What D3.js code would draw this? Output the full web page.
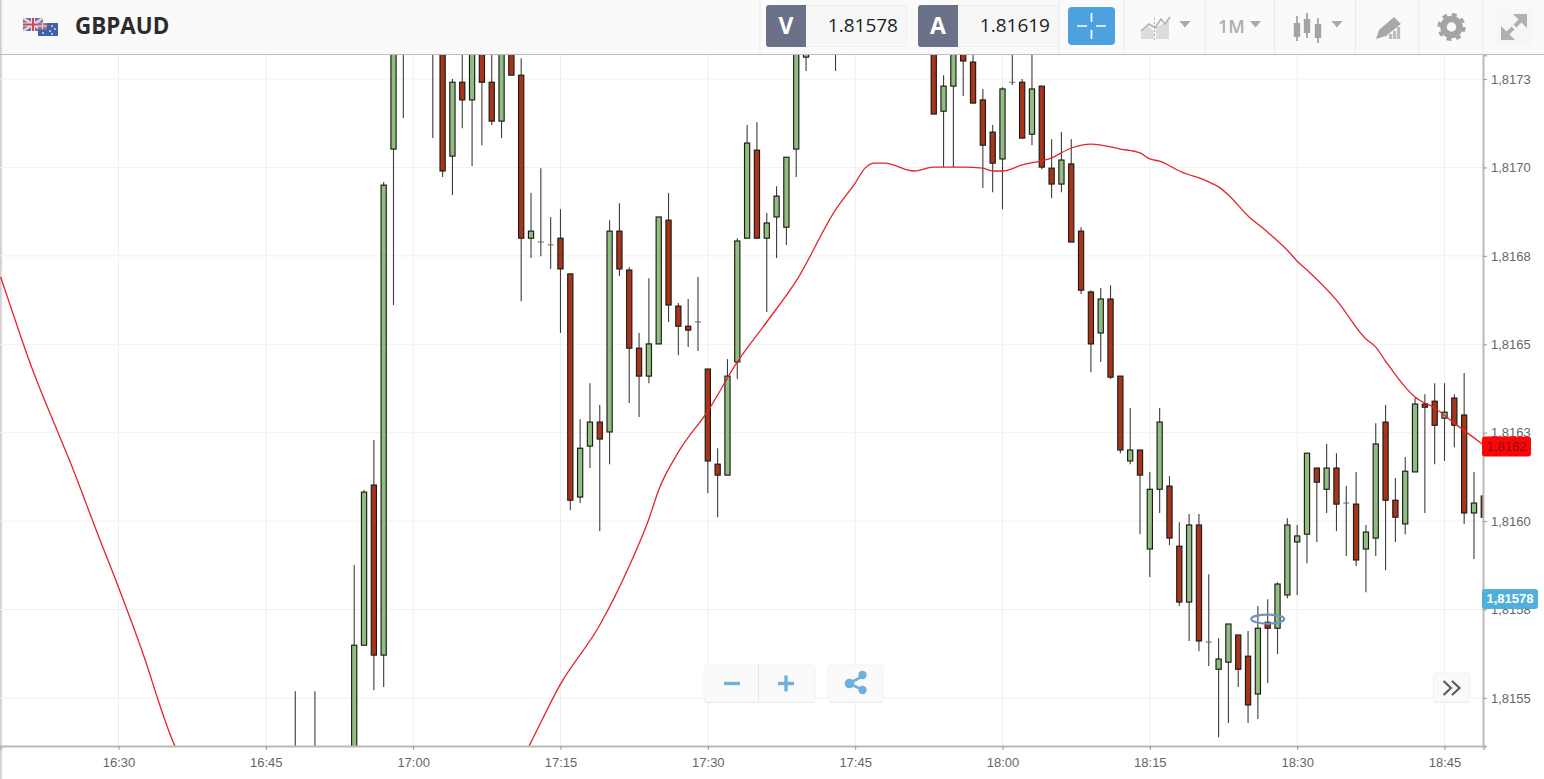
<!DOCTYPE html>
<html><head><meta charset="utf-8">
<script src="https://cdn.jsdelivr.net/npm/d3@7"></script>
<style>
html,body{margin:0;padding:0;background:#fff;overflow:hidden}
svg{display:block}
.tick text{font-family:"Liberation Sans",Arial,sans-serif;font-size:13px;fill:#666}
</style></head><body><svg id="c" width="1544" height="779"></svg>
<script>
const symbolName = "GBPAUD";
const bidLabel = "V", askLabel = "A";
const bidText = "1.81578", askText = "1.81619";
const periodText = "1M";
const lastQuote = 1.81578, lastQuoteText = "1,81578";
const maLastText = "1,8162";

const xTicks = ["16:30","16:45","17:00","17:15","17:30","17:45","18:00","18:15","18:30","18:45"];
const yTicks = [1.81725,1.8170,1.81675,1.8165,1.81625,1.8160,1.81575,1.8155];
const yTickLabels = ["1,8173","1,8170","1,8168","1,8165","1,8163","1,8160","1,8158","1,8155"];

const times = ["16:48","16:50","16:54","16:55","16:56","16:57","16:58","16:59",
"17:02","17:03","17:04","17:05","17:06","17:07","17:08","17:09","17:10","17:11","17:12","17:13","17:14","17:15","17:16","17:17","17:18","17:19",
"17:20","17:21","17:22","17:23","17:24","17:25","17:26","17:27","17:28","17:29","17:30","17:31","17:32","17:33","17:34","17:35","17:36","17:37","17:38","17:39","17:40",
"17:43","17:53","17:54","17:55","17:56","17:57","17:58","17:59","18:00","18:01","18:02","18:03","18:04","18:05","18:06","18:07","18:08","18:09",
"18:10","18:11","18:12","18:13","18:14","18:15","18:16","18:17","18:18","18:19","18:20","18:21","18:22","18:23","18:24","18:25","18:26","18:27","18:28","18:29",
"18:30","18:31","18:32","18:33","18:34","18:35","18:36","18:37","18:38","18:39","18:40","18:41","18:42","18:43","18:44","18:45","18:46","18:47","18:48","18:49"];

const opens = [1.815338,1.815335,1.815324,1.815649,1.816102,1.815621,1.817052,1.817389,
1.817417,1.817389,1.817032,1.817241,1.817191,1.817389,1.817241,1.817131,1.817360,1.817261,1.816800,1.816789,1.816781,1.816800,1.816699,1.816068,1.816212,1.816280,
1.816252,1.816820,1.816710,1.816489,1.816410,1.816501,1.816851,1.816608,1.816551,1.816563,1.816430,1.816161,1.816130,1.816450,1.816800,1.817049,1.816800,1.816860,1.816831,1.817052,1.817312,
1.817389,1.817389,1.817159,1.817230,1.817360,1.817298,1.817191,1.817100,1.817024,1.817241,1.817241,1.817094,1.817230,1.816998,1.816953,1.817010,1.816820,1.816648,
1.816532,1.816628,1.816410,1.816170,1.816201,1.815921,1.816090,1.816099,1.815929,1.815771,1.815989,1.815658,1.815581,1.815601,1.815678,1.815618,1.815511,1.815714,1.815697,1.815791,
1.815941,1.815963,1.816150,1.816090,1.816150,1.816051,1.816048,1.815921,1.815952,1.816280,1.816059,1.815992,1.816139,1.816331,1.816339,1.816291,1.816348,1.816300,1.816023,1.816071];

const highs = [1.815519,1.815519,1.815876,1.816088,1.816229,1.816959,1.817417,1.817417,
1.817445,1.817417,1.817250,1.817389,1.817417,1.817417,1.817389,1.817417,1.817389,1.817309,1.816928,1.816998,1.816860,1.816882,1.816699,1.816288,1.816390,1.816328,
1.816851,1.816899,1.816718,1.816532,1.816687,1.816860,1.816928,1.816617,1.816628,1.816690,1.816430,1.816206,1.816458,1.816800,1.817120,1.817128,1.816871,1.816947,1.817029,1.817417,1.817360,
1.817417,1.817417,1.817261,1.817417,1.817389,1.817360,1.817222,1.817120,1.817227,1.817389,1.817250,1.817389,1.817230,1.817080,1.817100,1.817080,1.816831,1.816653,
1.816659,1.816667,1.816410,1.816320,1.816201,1.816139,1.816320,1.816127,1.815997,1.816020,1.816020,1.815850,1.815669,1.815709,1.815678,1.815689,1.815760,1.815779,1.815827,1.816008,
1.815989,1.816192,1.816150,1.816218,1.816192,1.816099,1.816139,1.815989,1.816277,1.816328,1.816122,1.816181,1.816348,1.816359,1.816390,1.816390,1.816359,1.816419,1.816139,1.816088];

const lows = [1.815282,1.815270,1.815296,1.815649,1.815522,1.815531,1.816611,1.817140,
1.817083,1.816973,1.816922,1.817111,1.817004,1.817063,1.817120,1.817083,1.817261,1.816622,1.816744,1.816749,1.816713,1.816532,1.816031,1.816051,1.816150,1.815972,
1.816161,1.816693,1.816334,1.816294,1.816390,1.816501,1.816563,1.816469,1.816492,1.816481,1.816079,1.816011,1.816130,1.816402,1.816800,1.816800,1.816591,1.816744,1.816781,1.816973,1.817273,
1.817273,1.817151,1.817001,1.817001,1.817202,1.817182,1.816942,1.816930,1.816882,1.817233,1.817083,1.817063,1.816995,1.816913,1.816930,1.816789,1.816642,1.816421,
1.816450,1.816402,1.816192,1.816161,1.815963,1.815842,1.816023,1.815932,1.815760,1.815661,1.815632,1.815590,1.815389,1.815429,1.815531,1.815429,1.815440,1.815542,1.815624,1.815782,
1.815791,1.815881,1.815941,1.816023,1.815972,1.815901,1.815873,1.815799,1.815901,1.815861,1.815941,1.815963,1.816139,1.816023,1.816161,1.816170,1.816209,1.815992,1.815893,1.815992];

const closes = [1.815310,1.815300,1.815649,1.816082,1.815621,1.816950,1.817389,1.817360,
1.817360,1.816990,1.817241,1.817191,1.817389,1.817241,1.817131,1.817389,1.817261,1.816800,1.816820,1.816789,1.816781,1.816713,1.816059,1.816206,1.816280,1.816232,
1.816820,1.816713,1.816489,1.816410,1.816501,1.816860,1.816611,1.816551,1.816540,1.816563,1.816170,1.816130,1.816410,1.816792,1.817069,1.816800,1.816843,1.816919,1.817029,1.817389,1.817346,
1.817360,1.817151,1.817230,1.817389,1.817301,1.817182,1.817063,1.817012,1.817222,1.817241,1.817083,1.817222,1.817001,1.816953,1.817021,1.816789,1.816653,1.816501,
1.816628,1.816407,1.816201,1.816201,1.816130,1.816090,1.816280,1.815952,1.815771,1.815989,1.815661,1.815658,1.815610,1.815709,1.815581,1.815480,1.815697,1.815697,1.815822,1.815989,
1.815958,1.816192,1.816110,1.816150,1.816048,1.816051,1.815890,1.815969,1.816218,1.816059,1.816011,1.816141,1.816331,1.816322,1.816271,1.816308,1.816271,1.816023,1.816051,1.816011];

const maTimes = ["16:18","16:20","16:21","16:24","16:25","16:28","16:30","16:33","16:34","16:36","16:38",
"17:09","17:11","17:12","17:15","17:19","17:22","17:24","17:25","17:27","17:30","17:33","17:36","17:39","17:43","17:45","17:46","17:47","17:48",
"17:51","17:53","17:56","17:58","17:59","18:00","18:02","18:05","18:07","18:09","18:12","18:14","18:15","18:16","18:18","18:21","18:22","18:23","18:25","18:27","18:29",
"18:30","18:31","18:34","18:37","18:38","18:39","18:41","18:42","18:44","18:46","18:49"];
const maValues = [1.816690,1.816526,1.816447,1.816240,1.816173,1.815955,1.815813,1.815584,1.815497,1.815350,1.815296,
1.815296,1.815321,1.815375,1.815539,1.815706,1.815873,1.816006,1.816088,1.816195,1.816311,1.816450,1.816563,1.816679,1.816880,1.816956,1.816998,1.817012,1.817012,
1.816990,1.817001,1.817001,1.816998,1.816990,1.816990,1.817007,1.817027,1.817055,1.817066,1.817052,1.817041,1.817024,1.817018,1.816990,1.816959,1.816945,1.816922,1.816863,1.816817,1.816766,
1.816735,1.816710,1.816625,1.816515,1.816492,1.816452,1.816379,1.816351,1.816320,1.816277,1.816215];

const markerTime = "18:27", markerPrice = 1.815723;

const parseT = d3.timeParse("%H:%M");
const svg = d3.select("#c");
const plotRight = 1483, plotTop = 55, plotBottom = 746;

const x = d3.scaleTime().domain([parseT("16:18"), parseT("18:49")]).range([0.6, 1483.8]);
const y = d3.scaleLinear().domain([1.815364, 1.817318]).range([plotBottom, plotTop]);

const defs = svg.append("defs");
defs.append("clipPath").attr("id","plot").append("rect").attr("x",0).attr("y",plotTop).attr("width",plotRight).attr("height",plotBottom-plotTop);
const lg = defs.append("linearGradient").attr("id","edge");
lg.append("stop").attr("offset",0).attr("stop-color","#c4c4c4");
lg.append("stop").attr("offset",1).attr("stop-color","#ffffff");

// left edge
svg.append("rect").attr("x",0).attr("y",0).attr("width",3).attr("height",779).attr("fill","url(#edge)");

// grid
const grid = svg.append("g");
grid.selectAll("line.v").data(xTicks).join("line").attr("x1",d=>x(parseT(d))).attr("x2",d=>x(parseT(d))).attr("y1",plotTop).attr("y2",plotBottom).attr("stroke","#efefef");
grid.selectAll("line.h").data(yTicks).join("line").attr("x1",0).attr("x2",plotRight).attr("y1",d=>y(d)).attr("y2",d=>y(d)).attr("stroke","#f1f1f1").attr("class","h");

// candles
const idx = d3.range(times.length);
const plot = svg.append("g").attr("clip-path","url(#plot)");
const cg = plot.selectAll("g.k").data(idx).join("g").attr("class","k");
cg.append("line").attr("x1",i=>x(parseT(times[i]))).attr("x2",i=>x(parseT(times[i])))
  .attr("y1",i=>y(highs[i])).attr("y2",i=>y(lows[i])).attr("stroke","#3c3c3c").attr("stroke-width",1.1);
cg.filter(i=>opens[i]!==closes[i]).append("rect")
  .attr("x",i=>x(parseT(times[i]))-2.6).attr("width",5.2)
  .attr("y",i=>y(Math.max(opens[i],closes[i])))
  .attr("height",i=>Math.abs(y(opens[i])-y(closes[i])))
  .attr("fill",i=>closes[i]>opens[i]?"#90bd83":"#a9341c")
  .attr("stroke","#1c1c14").attr("stroke-width",1.15);
cg.filter(i=>opens[i]===closes[i]).append("line")
  .attr("x1",i=>x(parseT(times[i]))-3).attr("x2",i=>x(parseT(times[i]))+3)
  .attr("y1",i=>y(opens[i])).attr("y2",i=>y(opens[i])).attr("stroke","#666").attr("stroke-width",1);

// moving average
const ma = d3.line().x((d,i)=>x(parseT(maTimes[i]))).y(d=>y(d)).curve(d3.curveMonotoneX);
plot.append("path").attr("d",ma(maValues)).attr("fill","none").attr("stroke","#e2252b").attr("stroke-width",1.3);

// marker at the current price
plot.append("ellipse").attr("cx",x(parseT(markerTime))).attr("cy",y(markerPrice)).attr("rx",16.5).attr("ry",4.5)
  .attr("fill","none").attr("stroke","#6f93bd").attr("stroke-width",2.2);

// axes
const xAxis = d3.axisBottom(x).tickValues(xTicks.map(parseT)).tickFormat(d3.timeFormat("%H:%M")).tickSize(4).tickPadding(8);
const gx = svg.append("g").attr("transform",`translate(0,${plotBottom})`).call(xAxis);
gx.select(".domain").attr("stroke","#b9b9b9").attr("stroke-width",2);
gx.selectAll(".tick line").attr("stroke","#999");
const yAxis = d3.axisRight(y).tickValues(yTicks).tickFormat((d,i)=>yTickLabels[i]).tickSize(4).tickPadding(4);
const gy = svg.append("g").attr("transform",`translate(${plotRight},0)`).call(yAxis);
gy.select(".domain").attr("stroke","#b9b9b9").attr("stroke-width",2);
gy.selectAll(".tick line").attr("stroke","#999");

// price labels
const F = '"Liberation Sans",Arial,sans-serif';
function priceTag(v,w,fill,txtFill,txt,weight){
  const cy=y(v);
  svg.append("rect").attr("x",1482).attr("y",cy-10).attr("width",w).attr("height",20).attr("rx",3).attr("fill",fill);
  svg.append("text").attr("x",1482+w/2).attr("y",cy+4.5).attr("text-anchor","middle").attr("font-family",F).attr("font-size",13).attr("font-weight",weight).attr("fill",txtFill).text(txt);
}
priceTag(maValues[maValues.length-1]-0.000004,49,"#fb0606","#8e1010",maLastText,"normal");
priceTag(lastQuote,56,"#4fb0dc","#ffffff",lastQuoteText,"bold");

// header
const OS='"Open Sans",sans-serif';
const hd=svg.append("g");
hd.append("rect").attr("x",0).attr("y",0).attr("width",1544).attr("height",54).attr("fill","#fafafa");
hd.append("rect").attr("x",0).attr("y",0).attr("width",3).attr("height",54).attr("fill","url(#edge)");
hd.append("line").attr("x1",0).attr("x2",1544).attr("y1",54.5).attr("y2",54.5).attr("stroke","#bdbdbd");
[760,1059,1124,1205,1274.5,1355.5,1419,1483].forEach(v=>hd.append("line").attr("x1",v).attr("x2",v).attr("y1",0).attr("y2",54).attr("stroke","#eaeaea"));

// flags
const uk=hd.append("g");
uk.append("rect").attr("x",23).attr("y",18).attr("width",20).attr("height",13).attr("fill","#6d6fa8");
uk.append("path").attr("d","M23 18L43 31M43 18L23 31").attr("stroke","#e8d6dc").attr("stroke-width",2.4);
uk.append("path").attr("d","M33 18V31M23 24.5H43").attr("stroke","#f0e0e4").attr("stroke-width",4);
uk.append("path").attr("d","M33 18V31M23 24.5H43").attr("stroke","#c9485a").attr("stroke-width",2);
const au=hd.append("g");
au.append("rect").attr("x",38).attr("y",23).attr("width",20).attr("height",13).attr("fill","#3f62a8");
au.append("rect").attr("x",38).attr("y",23).attr("width",9).attr("height",6.5).attr("fill","#a8708f");
au.append("path").attr("d","M42.5 23V29.5M38 26.2H47").attr("stroke","#e4c8d2").attr("stroke-width",1.2);
[[52,26],[55,29],[50,31],[52,34],[43,33]].forEach(p=>au.append("circle").attr("cx",p[0]).attr("cy",p[1]).attr("r",.9).attr("fill","#dfe6f5"));

hd.append("text").attr("x",75).attr("y",34).attr("font-family",OS).attr("font-weight",700).attr("font-size",22.4).attr("fill","#2c2c2c").text(symbolName);

function quote(x0,letter,val){
  hd.append("rect").attr("x",x0+.5).attr("y",5.5).attr("width",140).attr("height",41).attr("rx",3).attr("fill","#f7f7f7").attr("stroke","#eeeeee");
  hd.append("path").attr("d",`M${x0+3} 5H${x0+40}V47H${x0+3}Q${x0} 47 ${x0} 44V8Q${x0} 5 ${x0+3} 5Z`).attr("fill","#6b7188");
  hd.append("text").attr("x",x0+20).attr("y",33.5).attr("text-anchor","middle").attr("font-family",OS).attr("font-weight",700).attr("font-size",23).attr("fill","#fff").text(letter);
  hd.append("text").attr("x",x0+132).attr("y",32).attr("text-anchor","end").attr("font-family",OS).attr("font-size",19).attr("fill","#222").text(val);
}
quote(766,bidLabel,bidText);
quote(918,askLabel,askText);

hd.append("rect").attr("x",1068).attr("y",7).attr("width",47).attr("height",38).attr("rx",4).attr("fill","#4ba2de");
hd.append("path").attr("d","M1091.5 13V22M1091.5 30V39M1077 26H1087M1096 26H1106").attr("stroke","#fff").attr("stroke-width",1.7);

const IC="#b0b0b0";
function tri(cx){hd.append("path").attr("d",`M${cx-5.5} 21H${cx+5.5}L${cx} 27.5Z`).attr("fill","#a8a8a8");}
// line-chart icon
hd.append("path").attr("d","M1141 39V32L1148 26L1154 31V39Z").attr("fill","#dcdcdc");
hd.append("path").attr("d","M1156 39V27L1169 21V39Z").attr("fill","#dcdcdc");
hd.append("path").attr("d","M1141 31L1149 24L1155 28L1161 19L1165 24L1170 17").attr("fill","none").attr("stroke","#b0b0b0").attr("stroke-width",1.6);
hd.append("line").attr("x1",1154.5).attr("x2",1154.5).attr("y1",18).attr("y2",40).attr("stroke","#b0b0b0").attr("stroke-dasharray","2 2");
tri(1185);
hd.append("text").attr("x",1218).attr("y",33).attr("font-family",OS).attr("font-weight",600).attr("font-size",18).attr("fill","#aeaeae").text(periodText);
tri(1255.5);
// candle icon
[[1297,16,41,23,37],[1307,13,38,19,33],[1318,18,43,24,38]].forEach(c=>{
  hd.append("line").attr("x1",c[0]).attr("x2",c[0]).attr("y1",c[1]).attr("y2",c[2]).attr("stroke","#a4a4a4").attr("stroke-width",1.8);
  hd.append("rect").attr("x",c[0]-3.2).attr("y",c[3]).attr("width",6.4).attr("height",c[4]-c[3]).attr("fill","#a4a4a4");
});
tri(1337);
// pencil icon
hd.append("path").attr("d","M1379 30L1394 17L1401 24L1386 36L1376 39Z").attr("fill","#a8a8a8");
[[1389,34],[1393,31],[1397,27]].forEach(b=>hd.append("rect").attr("x",b[0]).attr("y",b[1]).attr("width",3.2).attr("height",39-b[1]).attr("fill","#bcbcbc"));
// gear icon
hd.append("circle").attr("cx",1451.5).attr("cy",27).attr("r",8).attr("fill","none").attr("stroke","#a4a4a4").attr("stroke-width",6.5);
hd.append("circle").attr("cx",1451.5).attr("cy",27).attr("r",12.4).attr("fill","none").attr("stroke","#a4a4a4").attr("stroke-width",3.4).attr("stroke-dasharray","4.87 4.87");
// expand icon
hd.append("rect").attr("x",1495).attr("y",9).attr("width",38).attr("height",37).attr("fill","#f6f6f6");
hd.append("path").attr("d","M1527 14H1513L1527 28Z").attr("fill",IC);
hd.append("path").attr("d","M1522 19L1515 26").attr("stroke",IC).attr("stroke-width",4);
hd.append("path").attr("d","M1501 40V26L1515 40Z").attr("fill",IC);
hd.append("path").attr("d","M1506 35L1513 28").attr("stroke",IC).attr("stroke-width",4);

// bottom controls
function button(x0,y0,w,h){
  svg.append("rect").attr("x",x0).attr("y",y0+1).attr("width",w).attr("height",h).attr("rx",4).attr("fill","#e4e4e4");
  svg.append("rect").attr("x",x0).attr("y",y0).attr("width",w).attr("height",h).attr("rx",4).attr("fill","#fafafa").attr("stroke","#f2f2f2");
}
const BL="#6db2dc";
button(704,665,111,37);
svg.append("line").attr("x1",758.5).attr("x2",758.5).attr("y1",665).attr("y2",702).attr("stroke","#e6e6e6");
svg.append("path").attr("d","M724 683.5H740").attr("stroke",BL).attr("stroke-width",3.4);
svg.append("path").attr("d","M778 683.5H794M786 675.5V691.5").attr("stroke",BL).attr("stroke-width",3.4);
button(828,665,55,37);
svg.append("path").attr("d","M863 676L849 683.5L863 690").attr("fill","none").attr("stroke",BL).attr("stroke-width",2.6);
[[862.5,675,4.2],[849.5,683.5,4.8],[862.5,690,4.2]].forEach(p=>svg.append("circle").attr("cx",p[0]).attr("cy",p[1]).attr("r",p[2]).attr("fill",BL));
button(1433.5,673,36.5,29);
svg.append("path").attr("d","M1443.5 681L1451 688L1443.5 695M1452 681L1459.5 688L1452 695").attr("fill","none").attr("stroke","#5c5c5c").attr("stroke-width",2.2);
</script></body></html>
